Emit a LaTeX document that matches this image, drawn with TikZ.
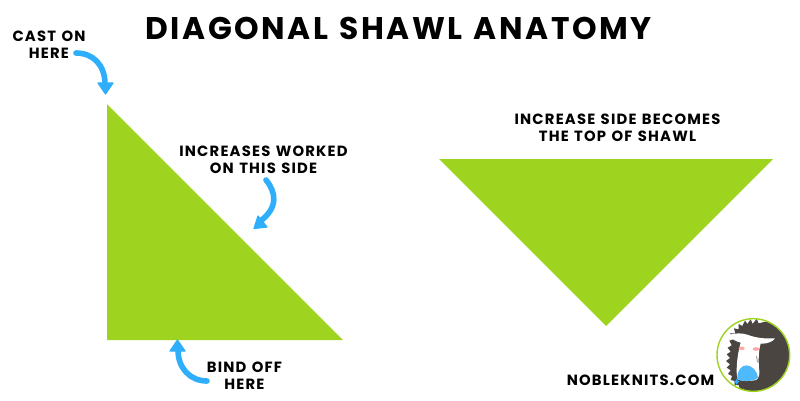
\documentclass[tikz,border=0pt]{standalone}
\usepackage{fontspec}
\setmainfont{Poppins}[BoldFont=Poppins Bold]
\newfontfamily\labelfont{Poppins Bold}[LetterSpace=8,WordSpace=1.5]
\newfontfamily\titlefont{Poppins Bold}[LetterSpace=8,WordSpace=1.25]
\definecolor{leaf}{HTML}{9ED41F}
\definecolor{sky}{HTML}{2FAEFB}
\definecolor{hog}{HTML}{4A4541}
\tikzset{
  lbl/.style={font=\labelfont\fontsize{14.8}{17.3}\selectfont, align=center, inner sep=0pt, text=black},
  arrowline/.style={draw=sky, line width=5.6pt, line cap=round},
  arrowhead/.style={fill=sky, draw=sky, line width=1.2pt, line join=round},
  cloth/.style={fill=leaf}
}
\begin{document}
\begin{tikzpicture}[x=1pt,y=-1pt]
\useasboundingbox (0,0) rectangle (800,400);
\fill[white] (0,0) rectangle (800,400);
\node[lbl,font=\titlefont\fontsize{31.3}{38}\selectfont] (title) at (398.5,28) {DIAGONAL SHAWL ANATOMY};
\fill[cloth] (107,104) -- (107,340) -- (343,340) -- cycle;
\fill[cloth] (439,159) -- (773,159) -- (606,326) -- cycle;
\node[lbl] (cast) at (49,45) {CAST ON\\HERE};
\node[lbl] (inc) at (263.5,160) {INCREASES WORKED\\ON THIS SIDE};
\node[lbl] (top) at (617.5,128) {INCREASE SIDE BECOMES\\THE TOP OF SHAWL};
\node[lbl] (bind) at (244.5,376) {BIND OFF\\HERE};
\node[lbl] (site) at (640.5,380.5) {NOBLEKNITS.COM};
% arrows
\coordinate (a1) at (76,53); \coordinate (a2) at (105,84);
\draw[arrowline] (a1) .. controls (93,53) and (105,65) .. (a2);
\fill[arrowhead] (98,83) -- (113,83) -- (105.5,94) -- cycle;
\coordinate (b1) at (266,180); \coordinate (b2) at (259,222);
\draw[arrowline] (b1) .. controls (276,192) and (279,208) .. (b2);
\fill[arrowhead] (258,216) -- (267,227) -- (254,228.5) -- cycle;
\coordinate (c1) at (207,381); \coordinate (c2) at (178,350);
\draw[arrowline] (c1) .. controls (190,381) and (178,368) .. (c2);
\fill[arrowhead] (170,351) -- (185,351) -- (177.5,340) -- cycle;
% mascot
\begin{scope}[shift={(700,300)},x=0.3333pt,y=-0.3333pt]
\fill[white] (160,165) circle (109);
\begin{scope}
\clip (160,165) circle (109);
\fill[hog] (135,62) -- (142,72) -- (152,58) -- (158,72) -- (170,56) -- (176,70) -- (300,40) -- (300,290) -- (140,290)
 -- (130,266) -- (120,268) -- (116,255) -- (104,256) -- (104,243) -- (92,240) -- (96,228) -- (84,222)
 -- (92,211) -- (80,203) -- (90,193) -- (78,183) -- (90,174) -- (80,163) -- (92,155) -- (83,143)
 -- (95,136) -- (88,122) -- (100,118) -- (90,100) -- (106,100) -- (102,85) -- (116,88) -- (116,72) -- (127,78) -- cycle;
\end{scope}
\fill[white] (85,105) .. controls (105,99) and (125,98) .. (145,105) .. controls (165,113) and (195,117) .. (225,115)
 .. controls (218,125) and (205,131) .. (182,131) .. controls (176,150) and (175,180) .. (177,205)
 .. controls (180,220) and (178,235) .. (168,240) .. controls (150,245) and (125,244) .. (113,238)
 .. controls (107,220) and (110,170) .. (122,128) .. controls (108,125) and (93,116) .. (85,105) -- cycle;
\fill[sky!85!white] (112,236) .. controls (110,212) and (125,195) .. (140,196) .. controls (158,197) and (172,215) .. (174,232)
 .. controls (168,241) and (150,244) .. (135,243) .. controls (125,243) and (117,241) .. (112,236) -- cycle;
\fill[red!35!white] (125,145) ellipse (9 and 5.5);
\fill[red!35!white] (168,147) ellipse (10 and 5.5);
\draw[hog, line width=0.5pt] (170,168) -- (172,186);
\fill[sky] (110,236) -- (113,242) -- (119,245) -- (113,248) -- (110,254) -- (107,248) -- (101,245) -- (107,242) -- cycle;
\draw[leaf, line width=1.4pt] (160,165) circle (109);
\end{scope}
\end{tikzpicture}
\end{document}
